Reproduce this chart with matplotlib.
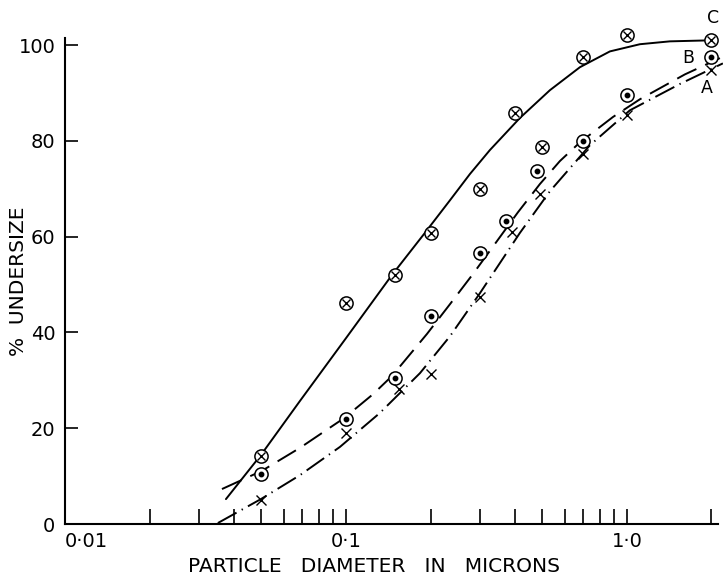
import matplotlib
matplotlib.use("Agg")
import matplotlib.pyplot as plt
from matplotlib.ticker import FixedLocator, NullFormatter, FixedFormatter

plt.rcParams['font.family'] = ['DejaVu Sans']

# Measured points (diameter in microns, % undersize)
c_x = [0.05, 0.1, 0.15, 0.2, 0.3, 0.4, 0.5, 0.7, 1.0, 2.0]
c_y = [14.3, 46.1, 52.0, 60.8, 70.0, 85.8, 78.7, 97.5, 102.1, 101.0]
b_x = [0.05, 0.1, 0.15, 0.2, 0.3, 0.37, 0.48, 0.7, 1.0, 2.0]
b_y = [10.5, 21.9, 30.5, 43.4, 56.6, 63.2, 73.8, 80.0, 89.6, 97.5]
a_x = [0.05, 0.1, 0.155, 0.2, 0.3, 0.39, 0.49, 0.7, 1.0, 2.0]
a_y = [5.0, 19.0, 28.2, 31.3, 47.4, 61.0, 68.9, 77.3, 85.4, 94.8]

# Hand-drawn fitted curves
c_curve_x = [0.0374, 0.0498, 0.0686, 0.1, 0.1458, 0.191, 0.2345, 0.2763, 0.3254,
             0.4161, 0.5321, 0.6804, 0.87, 1.1124, 1.4223, 1.9424]
c_curve_y = [5.2, 14.4, 25.7, 38.8, 52.0, 60.8, 67.6, 73.1, 78.1,
             84.8, 90.6, 95.4, 98.7, 100.2, 100.8, 101.0]
b_curve_x = [0.0362, 0.0502, 0.0686, 0.0984, 0.1248, 0.1458, 0.1943, 0.2345, 0.2831,
             0.3391, 0.4094, 0.4902, 0.5775, 0.6804, 0.8919, 1.1124, 1.6086, 2.1429]
b_curve_y = [7.3, 11.1, 15.9, 22.1, 27.1, 30.9, 39.7, 45.9, 52.2,
             58.5, 65.1, 71.0, 75.8, 79.7, 85.0, 88.7, 93.9, 97.3]
a_curve_x = [0.035, 0.0498, 0.0686, 0.0952, 0.1321, 0.1834, 0.2345, 0.2998, 0.4161,
             0.5321, 0.7385, 1.0249, 1.5442, 2.1963]
a_curve_y = [0.2, 5.2, 10.2, 16.1, 23.2, 31.5, 39.2, 48.2, 60.8,
             69.5, 79.1, 86.4, 91.9, 96.2]

x_major = [0.01, 0.1, 1.0]
x_major_labels = ['0\u00b701', '0\u00b71', '1\u00b70']
x_minor = [0.02, 0.03, 0.04, 0.05, 0.06, 0.07, 0.08, 0.09,
           0.2, 0.3, 0.4, 0.5, 0.6, 0.7, 0.8, 0.9, 2.0]
y_ticks = [0, 20, 40, 60, 80, 100]

W, H = 723, 576
fig = plt.figure(figsize=(W / 100, H / 100), dpi=100)
ax = fig.add_axes([65 / W, 52 / H, 653 / W, 486 / H])
ax.set_xscale('log')
ax.set_xlim(0.01, 2.11)
ax.set_ylim(0, 101.5)

lw = 1.4
ax.plot(c_curve_x, c_curve_y, color='black', lw=lw, clip_on=False,
        solid_capstyle='round', solid_joinstyle='round')
ax.plot(b_curve_x, b_curve_y, color='black', lw=lw, clip_on=False, dashes=(11, 5))
ax.plot(a_curve_x, a_curve_y, color='black', lw=lw, clip_on=False,
        dashes=(11, 3, 0.7, 3))

ms = 9.5
# Circled cross
ax.plot(c_x, c_y, 'o', ms=ms, mfc='white', mec='black', mew=1.1, clip_on=False, zorder=3)
ax.plot(c_x, c_y, 'x', ms=5.5, mec='black', mew=1.0, clip_on=False, zorder=4)
# Circled dot
ax.plot(b_x, b_y, 'o', ms=ms, mfc='white', mec='black', mew=1.1, clip_on=False, zorder=3)
ax.plot(b_x, b_y, 'o', ms=3.2, mfc='black', mec='black', clip_on=False, zorder=4)
# Plain cross
ax.plot(a_x, a_y, 'x', ms=7, mec='black', mew=1.0, clip_on=False, zorder=3)

for s in ['top', 'right']:
    ax.spines[s].set_visible(False)
for s in ['left', 'bottom']:
    ax.spines[s].set_linewidth(1.5)

ax.xaxis.set_major_locator(FixedLocator(x_major))
ax.xaxis.set_major_formatter(FixedFormatter(x_major_labels))
ax.xaxis.set_minor_locator(FixedLocator(x_minor))
ax.xaxis.set_minor_formatter(NullFormatter())
ax.set_yticks(y_ticks)
ax.set_yticklabels([str(v) for v in y_ticks])

ax.tick_params(axis='x', which='both', direction='in', length=11, width=1.2,
               labelsize=14, pad=6)
ax.tick_params(axis='y', which='major', direction='in', length=9, width=1.2,
               labelsize=14, pad=7)
ax.get_xticklabels()[0].set_horizontalalignment('left')

ax.set_xlabel('PARTICLE   DIAMETER   IN   MICRONS', fontsize=14.5)
ax.xaxis.set_label_coords((374 - 65) / 653, (524 - 566) / 486)
ax.xaxis.label.set_va('center')
ax.set_ylabel('%  UNDERSIZE', fontsize=14.5)
ax.yaxis.set_label_coords((19 - 65) / 653, 0.5)
ax.yaxis.label.set_va('center')

ax.text(2.03, 105.6, 'C', fontsize=12.5, ha='center', va='center')
ax.text(1.66, 97.3, 'B', fontsize=12.5, ha='center', va='center')
ax.text(1.93, 91.0, 'A', fontsize=12.5, ha='center', va='center')

fig.savefig('out.png', dpi=100)
